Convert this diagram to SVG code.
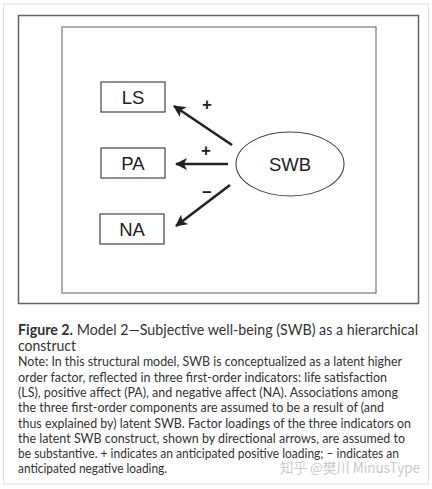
<svg xmlns="http://www.w3.org/2000/svg" width="432" height="489" viewBox="0 0 432 489">
<defs>
<style>
.box{fill:#fff;stroke:#444;stroke-width:1.2}
.lbl{font-family:"Liberation Sans",Arial,sans-serif;font-size:18.5px;fill:#222;text-anchor:middle}
.sign{font-family:"Liberation Sans",Arial,sans-serif;font-size:17px;font-weight:bold;fill:#222;text-anchor:middle}
.arr{stroke:#222;stroke-width:2.6;fill:none;marker-end:url(#ah)}
.cap{font-family:Lato,"Open Sans",sans-serif;font-size:13.2px;fill:#333}
.title{font-family:Lato,"Open Sans",sans-serif;font-size:14.8px;fill:#333}
</style>
<marker id="ah" markerUnits="userSpaceOnUse" viewBox="0 0 12 12" refX="11" refY="6" markerWidth="12" markerHeight="12" orient="auto">
<path d="M0,0 L12,6 L0,12 L3,6 Z" fill="#222"/>
</marker>
</defs>
<rect x="0" y="0" width="432" height="489" fill="#fff"/>
<rect x="3.5" y="4" width="425" height="480" fill="none" stroke="#ddd" stroke-width="1"/>
<rect x="18.5" y="15.5" width="400" height="288" fill="none" stroke="#666" stroke-width="1.5"/>
<rect x="62" y="27" width="314" height="266" fill="none" stroke="#777" stroke-width="1.2"/>
<g id="connectors">
<line class="arr" x1="232" y1="145" x2="174" y2="106"/>
<line class="arr" x1="228" y1="164" x2="176" y2="164"/>
<line class="arr" x1="230" y1="185" x2="176" y2="226"/>
<text class="sign" x="207" y="110">+</text>
<text class="sign" x="206" y="156">+</text>
<text class="sign" x="207" y="198">−</text>
</g>
<g id="LS"><rect class="box" x="101" y="82" width="64" height="30"/><text class="lbl" x="133" y="103.5">LS</text></g>
<g id="PA"><rect class="box" x="101" y="148" width="64" height="30"/><text class="lbl" x="133" y="169.5">PA</text></g>
<g id="NA"><rect class="box" x="100" y="214" width="64" height="30"/><text class="lbl" x="132" y="235.5">NA</text></g>
<g id="SWB"><ellipse cx="290" cy="164" rx="54" ry="32" fill="#fff" stroke="#444" stroke-width="1.1"/><text class="lbl" x="290" y="170.5">SWB</text></g>
<g id="caption">
<text class="title" x="18" y="335" textLength="400" lengthAdjust="spacingAndGlyphs"><tspan font-weight="bold">Figure 2.</tspan> Model 2—Subjective well-being (SWB) as a hierarchical</text>
<text class="title" x="18" y="350.5" textLength="58" lengthAdjust="spacingAndGlyphs">construct</text>
<text class="cap" x="18" y="366" textLength="384" lengthAdjust="spacingAndGlyphs">Note: In this structural model, SWB is conceptualized as a latent higher</text>
<text class="cap" x="18" y="381.5" textLength="369" lengthAdjust="spacingAndGlyphs">order factor, reflected in three first-order indicators: life satisfaction</text>
<text class="cap" x="18" y="397" textLength="380" lengthAdjust="spacingAndGlyphs">(LS), positive affect (PA), and negative affect (NA). Associations among</text>
<text class="cap" x="18" y="412" textLength="366" lengthAdjust="spacingAndGlyphs">the three first-order components are assumed to be a result of (and</text>
<text class="cap" x="18" y="427.5" textLength="393" lengthAdjust="spacingAndGlyphs">thus explained by) latent SWB. Factor loadings of the three indicators on</text>
<text class="cap" x="18" y="443" textLength="387" lengthAdjust="spacingAndGlyphs">the latent SWB construct, shown by directional arrows, are assumed to</text>
<text class="cap" x="18" y="458" textLength="381" lengthAdjust="spacingAndGlyphs">be substantive. + indicates an anticipated positive loading; – indicates an</text>
<text class="cap" x="18" y="473" textLength="149" lengthAdjust="spacingAndGlyphs">anticipated negative loading.</text>
<text x="280" y="473" font-family="'Noto Sans CJK SC','Noto Sans',sans-serif" font-size="14" fill="#bbb" fill-opacity="0.8" textLength="140" lengthAdjust="spacingAndGlyphs">知乎 @樊川 MinusType</text>
</g>
</svg>
